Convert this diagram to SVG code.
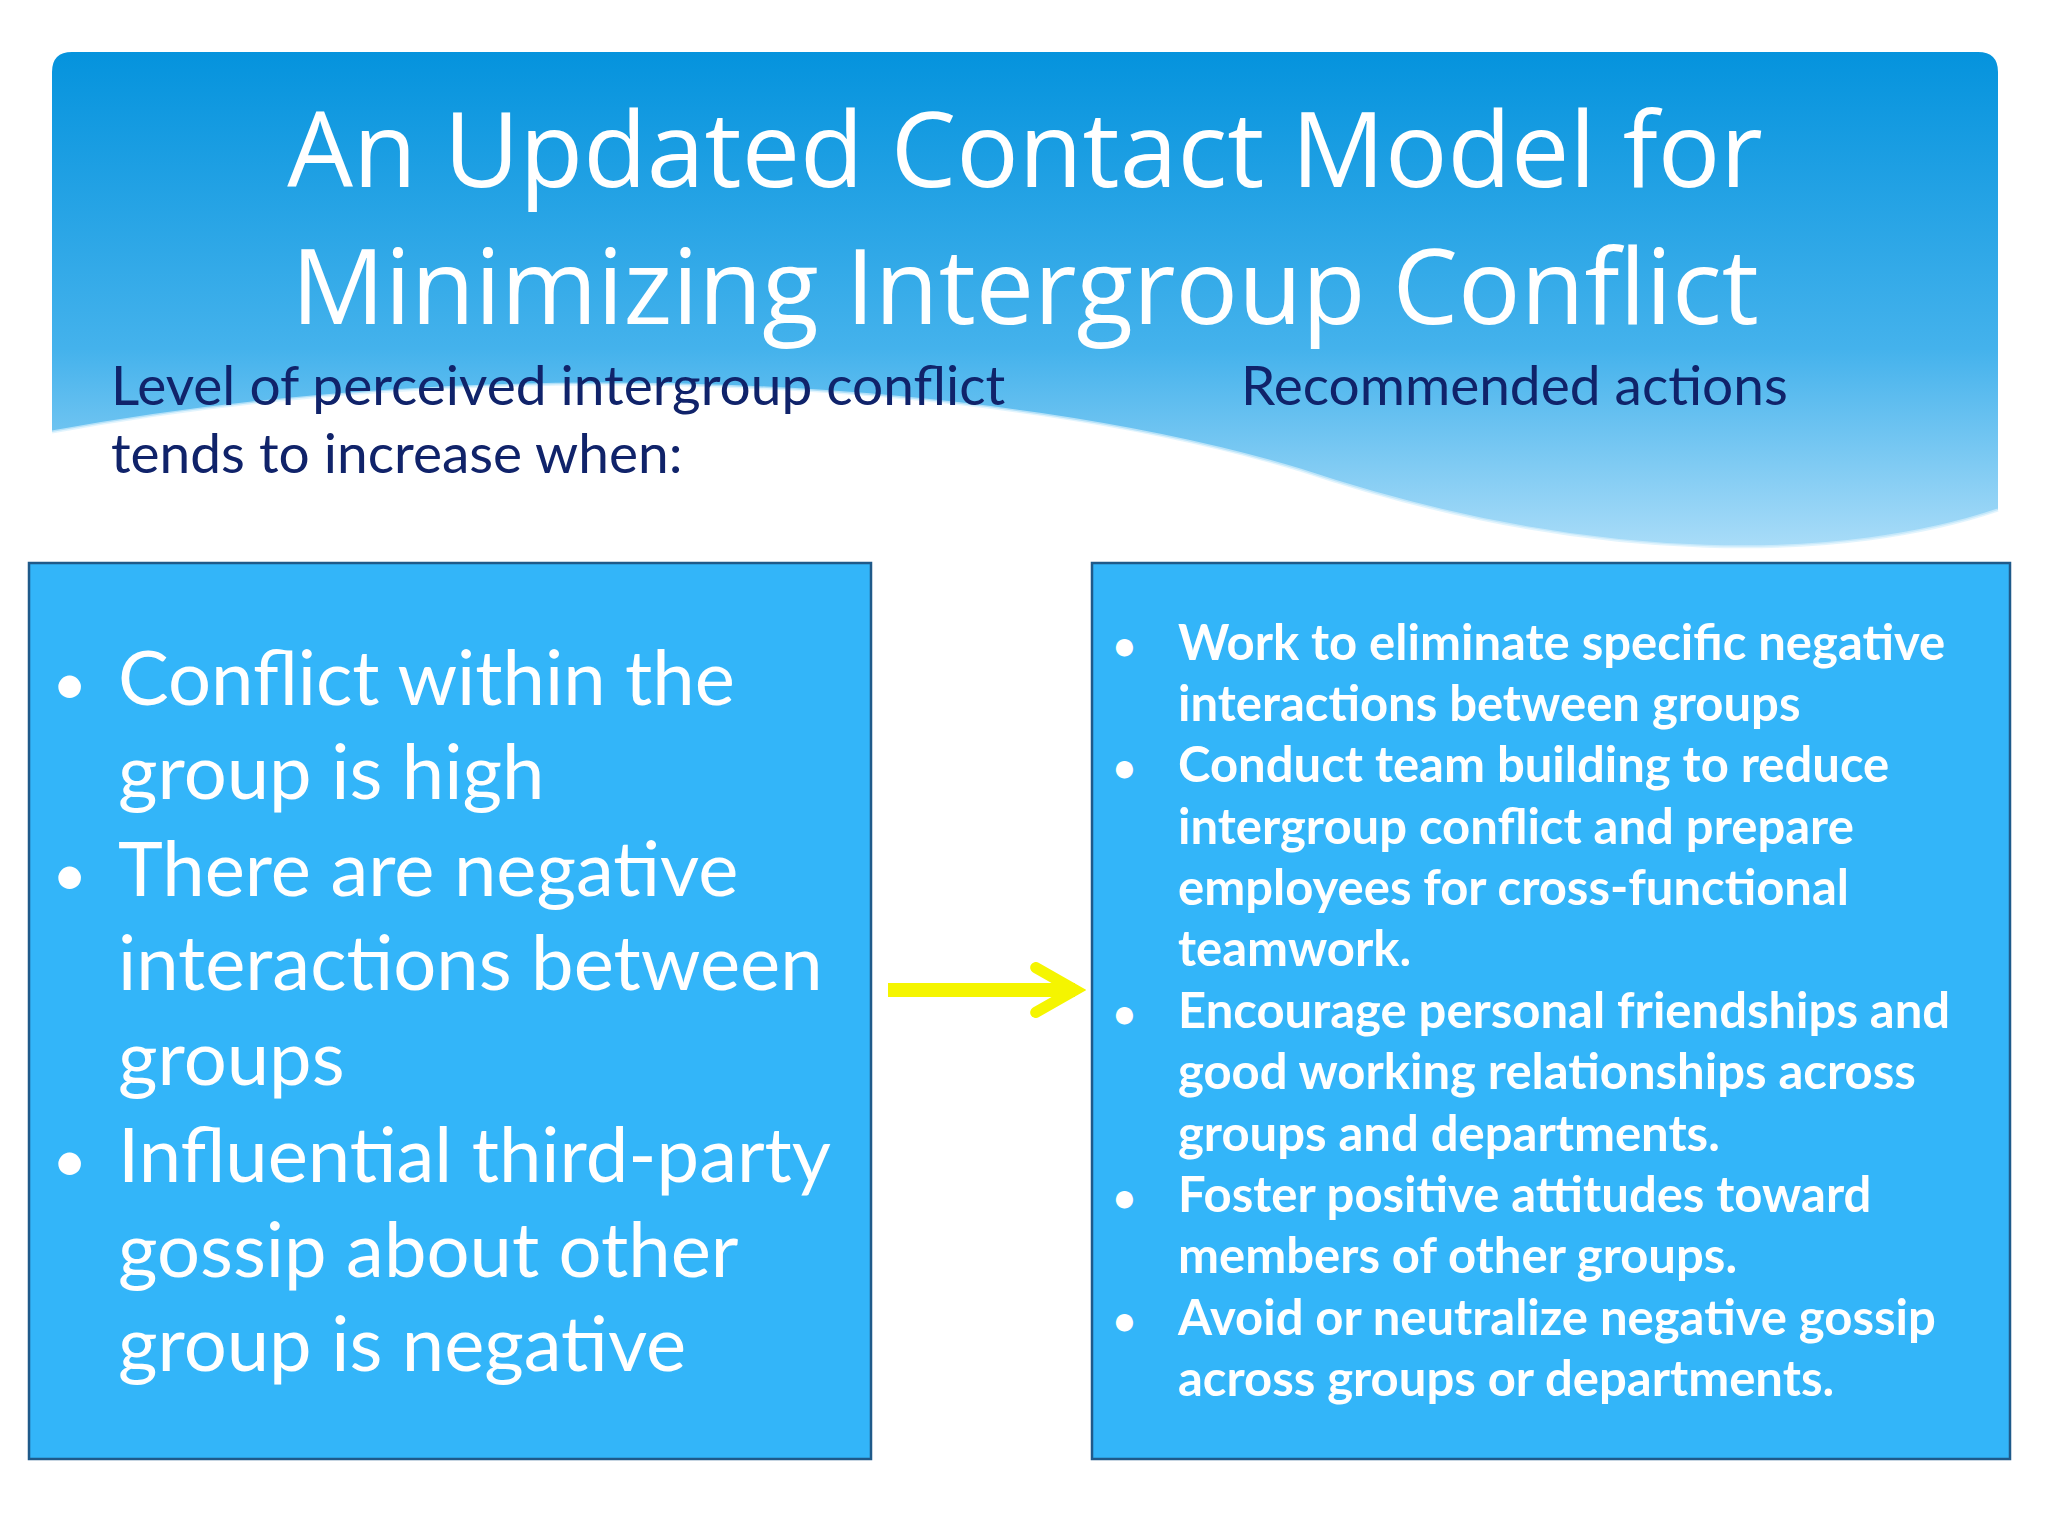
<svg xmlns="http://www.w3.org/2000/svg" width="2048" height="1536" viewBox="0 0 2048 1536">
<defs>
<linearGradient id="hg" x1="0" y1="0" x2="0" y2="1">
<stop offset="0" stop-color="#0593dd"/><stop offset="0.6" stop-color="#44b2ec"/><stop offset="1" stop-color="#a9dcf8"/>
</linearGradient>
<marker id="ah" viewBox="0 0 10 10" refX="8" refY="5" markerWidth="4" markerHeight="4" orient="auto"><path d="M1,1 L8,5 L1,9" fill="none" stroke="#f5f500" stroke-width="2" stroke-linecap="round"/></marker>
<style>
.box{fill:#33b5f9;stroke:#1f5a8a;stroke-width:2.5}
.lt{font-family:Lato,"Open Sans",sans-serif;font-size:76px;fill:#fff}
.rt{font-family:Lato,"Open Sans",sans-serif;font-size:49px;font-weight:bold;fill:#fff}
.sub{font-family:Lato,"Open Sans",sans-serif;font-size:55px;fill:#10236a}
.ttl{font-family:"Open Sans",Lato,sans-serif;font-size:104px;fill:#fff;text-anchor:middle}
.bl{font-size:0.8em}
</style>
</defs>
<rect width="2048" height="1536" fill="#fff"/>
<g id="header">
<path d="M72,52 L1978,52 Q1998,52 1998,72 L1998,510 C1850,560 1600,570 1300,470 C1000,380 500,350 52,432 L52,72 Q52,52 72,52 Z" fill="url(#hg)"/>
<path d="M52,432 C500,350 1000,380 1300,470 C1600,570 1850,560 1998,510" fill="none" stroke="#d6effc" stroke-width="3" opacity="0.7"/>
<text class="ttl" x="1025" y="187">An Updated Contact Model for</text>
<text class="ttl" x="1025" y="324">Minimizing Intergroup Conflict</text>
</g>
<g id="subheads">
<text class="sub" x="111" y="405">Level of perceived intergroup conflict</text>
<text class="sub" x="111" y="473">tends to increase when:</text>
<text class="sub" x="1241" y="405">Recommended actions</text>
</g>
<g id="left-box">
<rect class="box" x="29" y="563" width="842" height="896"/>
<text class="lt"><tspan x="52" y="705" class="bl">•</tspan><tspan x="118" y="705">Conflict within the</tspan><tspan x="118" y="799">group is high</tspan><tspan x="52" y="896" class="bl">•</tspan><tspan x="118" y="896">There are negative</tspan><tspan x="118" y="990">interactions between</tspan><tspan x="118" y="1085">groups</tspan><tspan x="52" y="1182" class="bl">•</tspan><tspan x="118" y="1182">Influential third-party</tspan><tspan x="118" y="1277">gossip about other</tspan><tspan x="118" y="1371">group is negative</tspan></text>
</g>
<g id="right-box">
<rect class="box" x="1092" y="563" width="918" height="896"/>
<text class="rt"><tspan x="1113" y="660" class="bl">•</tspan><tspan x="1178" y="660">Work to eliminate specific negative</tspan><tspan x="1178" y="721">interactions between groups</tspan><tspan x="1113" y="782" class="bl">•</tspan><tspan x="1178" y="782">Conduct team building to reduce</tspan><tspan x="1178" y="844">intergroup conflict and prepare</tspan><tspan x="1178" y="905">employees for cross-functional</tspan><tspan x="1178" y="966">teamwork.</tspan><tspan x="1113" y="1028" class="bl">•</tspan><tspan x="1178" y="1028">Encourage personal friendships and</tspan><tspan x="1178" y="1089">good working relationships across</tspan><tspan x="1178" y="1151">groups and departments.</tspan><tspan x="1113" y="1212" class="bl">•</tspan><tspan x="1178" y="1212">Foster positive attitudes toward</tspan><tspan x="1178" y="1273">members of other groups.</tspan><tspan x="1113" y="1335" class="bl">•</tspan><tspan x="1178" y="1335">Avoid or neutralize negative gossip</tspan><tspan x="1178" y="1396">across groups or departments.</tspan></text>
</g>
<g id="connectors">
<line x1="888" y1="990" x2="1075" y2="990" stroke="#f5f500" stroke-width="14" marker-end="url(#ah)"/>
</g>
</svg>
